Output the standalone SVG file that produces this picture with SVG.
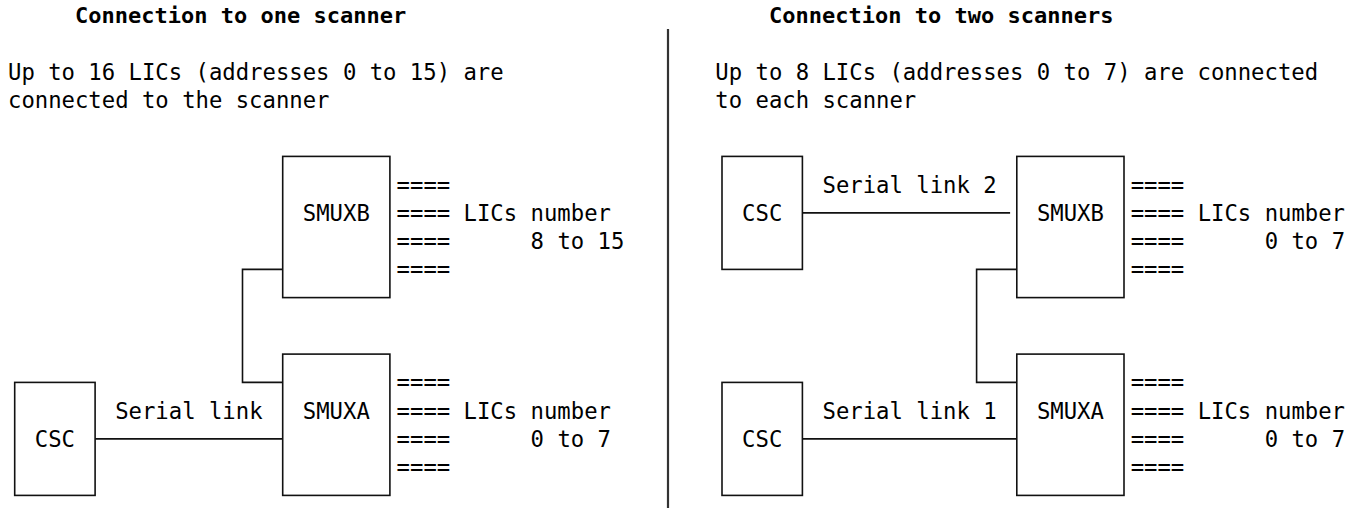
<svg xmlns="http://www.w3.org/2000/svg" width="1354" height="508" viewBox="0 0 1354 508">
<style>
text{font-family:"DejaVu Sans Mono","Liberation Mono",monospace;font-size:22.25px;fill:#000}
.t{font-weight:bold;font-size:22px}
.box{fill:none;stroke:#111;stroke-width:1.6}
.ln{fill:none;stroke:#111;stroke-width:1.6}
.div{stroke:#333;stroke-width:2.2}
</style>
<rect width="1354" height="508" fill="#fff"/>
<g id="headings">
<text class="t" x="75" y="23">Connection to one scanner</text>
<text class="t" x="769" y="23">Connection to two scanners</text>
<text x="8" y="79.6">Up to 16 LICs (addresses 0 to 15) are</text>
<text x="8" y="107.9">connected to the scanner</text>
<text x="715.3" y="79.6">Up to 8 LICs (addresses 0 to 7) are connected</text>
<text x="715.3" y="107.9">to each scanner</text>
<line class="div" x1="668" y1="29" x2="668" y2="508"/>
</g>
<g id="connectors">
<polyline class="ln" points="282.7,269.4 242.5,269.4 242.5,382.4 282.7,382.4"/>
<line class="ln" x1="95.1" y1="438.9" x2="282.7" y2="438.9"/>
<polyline class="ln" points="1016.8,269.4 976.6,269.4 976.6,382.4 1016.8,382.4"/>
<line class="ln" x1="802.4" y1="212.9" x2="1010.1" y2="212.9"/>
<line class="ln" x1="802.4" y1="438.9" x2="1016.8" y2="438.9"/>
<text x="115.2" y="418.6">Serial link</text>
<text x="822.5" y="192.6">Serial link 2</text>
<text x="822.5" y="418.6">Serial link 1</text>
</g>
<g id="left-csc">
<rect class="box" x="14.7" y="382.4" width="80.4" height="113"/>
<text x="34.8" y="446.9">CSC</text>
</g>
<g id="left-smuxb">
<rect class="box" x="282.7" y="156.4" width="107.2" height="141.2"/>
<text x="302.8" y="220.9">SMUXB</text>
<text x="396.6" y="192.6">====</text>
<text x="396.6" y="220.9">==== LICs number</text>
<text x="396.6" y="249.1">====</text>
<text x="530.6" y="249.1">8 to 15</text>
<text x="396.6" y="277.4">====</text>
</g>
<g id="left-smuxa">
<rect class="box" x="282.7" y="354.1" width="107.2" height="141.3"/>
<text x="302.8" y="418.6">SMUXA</text>
<text x="396.6" y="390.4">====</text>
<text x="396.6" y="418.6">==== LICs number</text>
<text x="396.6" y="446.9">====</text>
<text x="530.6" y="446.9">0 to 7</text>
<text x="396.6" y="475.1">====</text>
</g>
<g id="right-csc-2">
<rect class="box" x="722" y="156.4" width="80.4" height="113"/>
<text x="742.1" y="220.9">CSC</text>
</g>
<g id="right-csc-1">
<rect class="box" x="722" y="382.4" width="80.4" height="113"/>
<text x="742.1" y="446.9">CSC</text>
</g>
<g id="right-smuxb">
<rect class="box" x="1016.8" y="156.4" width="107.2" height="141.2"/>
<text x="1036.9" y="220.9">SMUXB</text>
<text x="1130.7" y="192.6">====</text>
<text x="1130.7" y="220.9">==== LICs number</text>
<text x="1130.7" y="249.1">====</text>
<text x="1264.7" y="249.1">0 to 7</text>
<text x="1130.7" y="277.4">====</text>
</g>
<g id="right-smuxa">
<rect class="box" x="1016.8" y="354.1" width="107.2" height="141.3"/>
<text x="1036.9" y="418.6">SMUXA</text>
<text x="1130.7" y="390.4">====</text>
<text x="1130.7" y="418.6">==== LICs number</text>
<text x="1130.7" y="446.9">====</text>
<text x="1264.7" y="446.9">0 to 7</text>
<text x="1130.7" y="475.1">====</text>
</g>
</svg>
